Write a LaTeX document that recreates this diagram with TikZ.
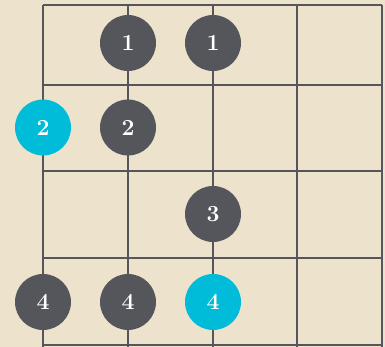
\documentclass[tikz,border=0pt]{standalone}
\usepackage{tikz}
\usetikzlibrary{positioning}
\usepackage{xcolor}
\definecolor{papier}{RGB}{237,227,204}
\definecolor{gitter}{RGB}{85,86,91}
\definecolor{punktgrau}{RGB}{85,86,91}
\definecolor{punktcyan}{RGB}{0,188,216}

\begin{document}
\begin{tikzpicture}[x=1pt,y=1pt,
  saite/.style={gitter,line width=2.6pt},
  finger/.style={circle,fill=punktgrau,text=white,minimum size=56pt,inner sep=0pt,
    font=\fontsize{23}{23}\selectfont\bfseries},
  grundton/.style={finger,fill=punktcyan}]
  % Hintergrund: Papier
  \fill[papier] (0,0) rectangle (385,347);
  \useasboundingbox (0,0) rectangle (385,347);
  % Saiten (senkrecht) und Buende (waagrecht)
  \foreach \x in {43,128,213,297,382} \draw[saite] (\x,342)--(\x,0);
  \foreach \y in {342,262,176,89,2} \draw[saite] (43,\y)--(382,\y);
  % Fingerpositionen
  \node[finger] (b1a) at (128,304){1};
  \node[finger] (b1b) at (213,304){1};
  \node[grundton] (b2a) at (43,219.5){2};
  \node[finger] (b2b) at (128,219.5){2};
  \node[finger] (b3a) at (213,133){3};
  \node[finger] (b4a) at (43,45){4};
  \node[finger] (b4b) at (128,45){4};
  \node[grundton] (b4c) at (213,45){4};
\end{tikzpicture}
\end{document}
